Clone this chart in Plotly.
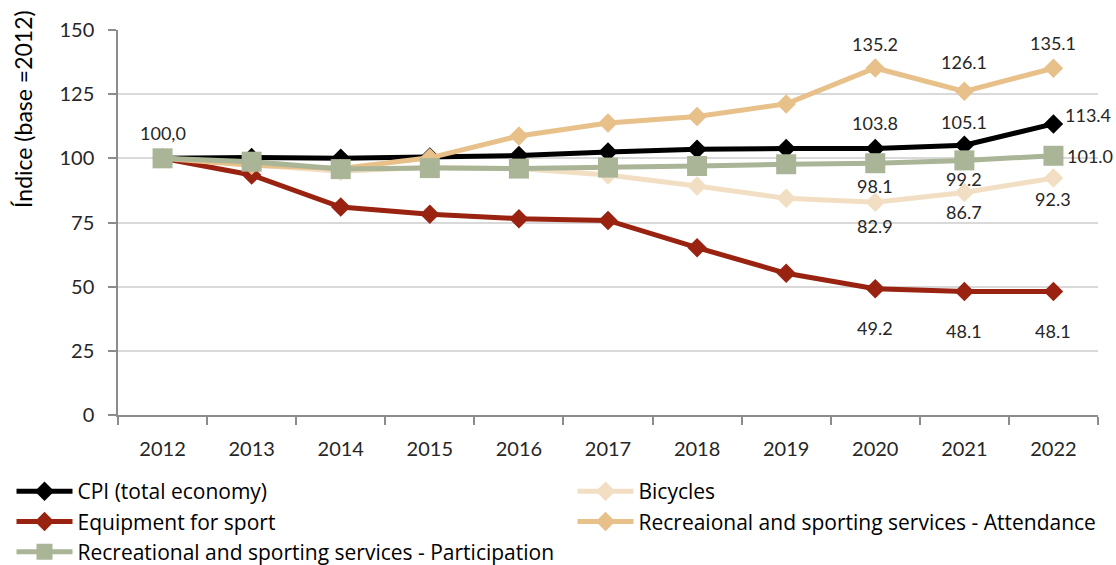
import plotly.graph_objects as go

years = ['2012', '2013', '2014', '2015', '2016', '2017', '2018', '2019', '2020', '2021', '2022']

cpi = [100.0, 100.3, 100.0, 100.5, 101.1, 102.5, 103.5, 103.8, 103.8, 105.1, 113.4]
bicycles = [100.0, 97.5, 95.0, 96.5, 96.0, 93.5, 89.2, 84.4, 82.9, 86.7, 92.3]
equipment = [100.0, 93.5, 81.0, 78.2, 76.5, 75.8, 65.2, 55.2, 49.2, 48.1, 48.1]
attendance = [100.0, 97.3, 96.0, 100.2, 108.7, 113.8, 116.3, 121.2, 135.2, 126.1, 135.1]
participation = [100.0, 98.7, 95.8, 96.2, 96.0, 96.4, 97.0, 97.7, 98.1, 99.2, 101.0]

names = [
    'CPI (total economy)',
    'Bicycles',
    'Equipment for sport',
    'Recreaional and sporting services - Attendance',
    'Recreational and sporting services - Participation',
]

# data labels shown on the chart (point index -> text)
cpi_labels = {0: '100,0', 8: '103.8', 9: '105.1', 10: '113.4'}
bicycles_labels = {8: '82.9', 9: '86.7', 10: '92.3'}
equipment_labels = {8: '49.2', 9: '48.1', 10: '48.1'}
attendance_labels = {8: '135.2', 9: '126.1', 10: '135.1'}
participation_labels = {8: '98.1', 9: '99.2', 10: '101.0'}

FONT = 'Lato'
TXT = '#262626'

series = [
    (names[0], cpi, '#000000', 'diamond', 15, 'legend', cpi_labels,
     {0: (0, 25, 'center'), 8: (0, 26, 'center'), 9: (0, 23, 'center'), 10: (10, 9, 'left')}),
    (names[1], bicycles, '#F2DFC3', 'diamond', 15, 'legend2', bicycles_labels,
     {8: (0, -24, 'center'), 9: (0, -20, 'center'), 10: (0, -21, 'center')}),
    (names[2], equipment, '#992310', 'diamond', 15, 'legend', equipment_labels,
     {8: (0, -39, 'center'), 9: (0, -39, 'center'), 10: (0, -39, 'center')}),
    (names[3], attendance, '#E8C08A', 'diamond', 15, 'legend2', attendance_labels,
     {8: (0, 24, 'center'), 9: (0, 29, 'center'), 10: (0, 25, 'center')}),
    (names[4], participation, '#A9B596', 'square', 20, 'legend', participation_labels,
     {8: (0, -23, 'center'), 9: (0, -19, 'center'), 10: (12, 0, 'left')}),
]

fig = go.Figure()
annotations = []
for name, vals, color, sym, msize, leg, labels, offs in series:
    fig.add_trace(go.Scatter(
        x=years, y=vals, name=name, mode='lines+markers',
        line=dict(color=color, width=5),
        marker=dict(symbol=sym, size=msize, color=color),
        cliponaxis=False, legend=leg,
    ))
    for i, txt in labels.items():
        xs, ys, xa = offs[i]
        annotations.append(dict(
            x=i, y=vals[i], xref='x', yref='y', text=txt, showarrow=False,
            xshift=xs, yshift=ys, xanchor=xa, yanchor='middle',
            font=dict(family=FONT, size=18, color=TXT),
        ))

L, R, T, B = 117.5, 18, 29.5, 150
W, H = 1116, 565
pw, ph = W - L - R, H - T - B
annotations.append(dict(
    x=(23 - L) / pw, y=(H - B - 109) / ph, xref='paper', yref='paper',
    xanchor='center', yanchor='middle',
    text='Índice (base =2012)', showarrow=False, textangle=-90,
    font=dict(family=FONT, size=23, color='#000000'),
))

leg_common = dict(
    orientation='v', xref='container', yref='container',
    xanchor='left', yanchor='top', itemwidth=56, traceorder='normal',
    font=dict(family='Open Sans', size=21, color='#000000'),
    bgcolor='rgba(0,0,0,0)',
)

fig.update_layout(
    width=W, height=H,
    margin=dict(l=L, r=R, t=T, b=B, pad=0, autoexpand=False),
    paper_bgcolor='white', plot_bgcolor='white',
    font=dict(family=FONT, size=20, color=TXT),
    showlegend=True,
    legend=dict(x=11.5 / W, y=1 - 471 / H, **leg_common),
    legend2=dict(x=572.5 / W, y=1 - 471 / H, **leg_common),
    annotations=annotations,
)

fig.update_xaxes(
    type='category', range=[-0.5, 10.5],
    showline=True, linecolor='#8C8C8C', linewidth=1.5,
    ticks='outside', tickson='boundaries', ticklen=8, tickcolor='#8C8C8C', tickwidth=1.5,
    showgrid=False, ticklabelstandoff=15,
    tickfont=dict(family=FONT, size=20, color=TXT),
)
fig.update_yaxes(
    range=[0, 150], dtick=25, tick0=0,
    showline=True, linecolor='#8C8C8C', linewidth=1.5,
    ticks='outside', ticklen=8, tickcolor='#8C8C8C', tickwidth=1.5,
    showgrid=True, gridcolor='#D9D9D9', gridwidth=1.5,
    zeroline=False, ticklabelstandoff=10,
    tickfont=dict(family=FONT, size=20, color=TXT),
)

fig.write_html('out.html', config={'displayModeBar': False},
               post_script="document.body.style.margin='0';document.body.style.overflow='hidden';")
